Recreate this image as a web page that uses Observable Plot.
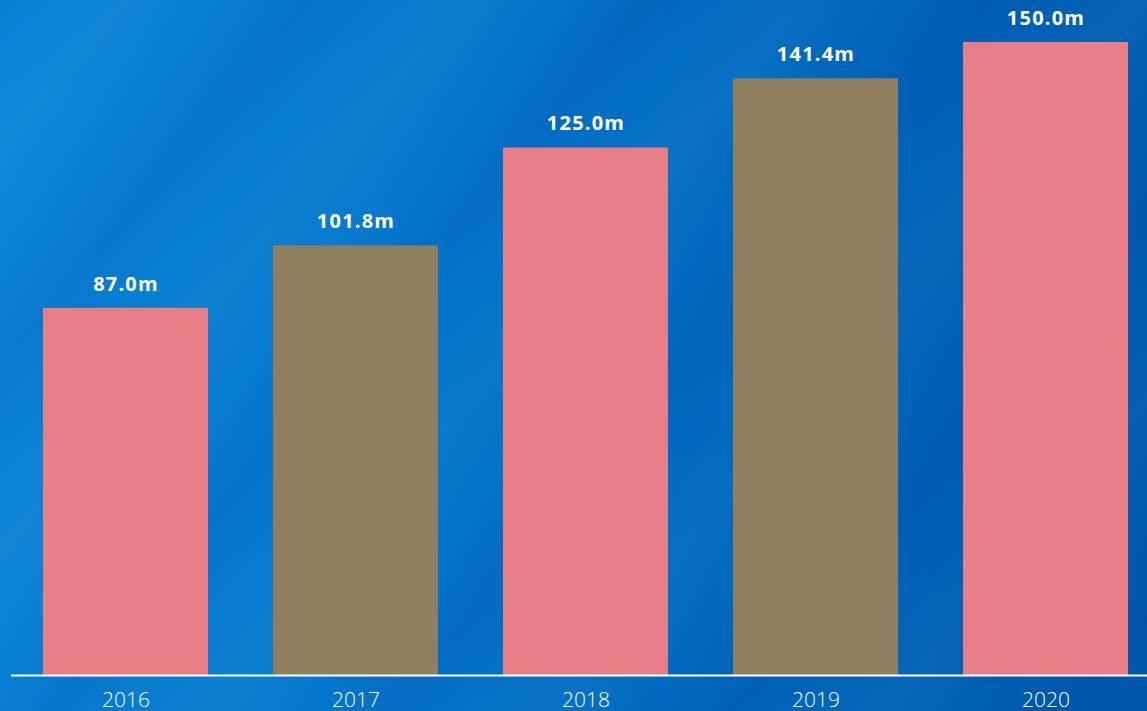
<!DOCTYPE html>
<html>
<head>
<meta charset="utf-8">
<script src="https://cdn.jsdelivr.net/npm/d3@7"></script>
<script src="https://cdn.jsdelivr.net/npm/@observablehq/plot@0.6"></script>
<style>
  html, body { margin: 0; padding: 0; width: 1147px; height: 711px; overflow: hidden; }
  body {
    background:
      repeating-linear-gradient(-50deg, rgba(0,40,140,0.0) 0px, rgba(0,40,140,0.10) 60px, rgba(0,40,140,0.0) 130px, rgba(255,255,255,0.03) 200px, rgba(0,40,140,0.0) 260px),
      linear-gradient(100deg, #0A84D8 0%, #0478CC 35%, #0068BE 65%, #0058AA 100%);
  }
  #chart { position: absolute; left: 0; top: 0; }
  #chart svg { background: transparent; }
  .vlabel text { letter-spacing: 1.2px; }
</style>
</head>
<body>
<div id="chart"></div>
<script>
const years = ["2016", "2017", "2018", "2019", "2020"];
const values = [87.0, 101.8, 125.0, 141.4, 150.0];
const labels = ["87.0m", "101.8m", "125.0m", "141.4m", "150.0m"];
const barColors = ["#E87E88", "#8F7F61", "#E87E88", "#8F7F61", "#E87E88"];

const data = years.map((y, i) => ({year: y, value: values[i], label: labels[i], color: barColors[i]}));

const chart = Plot.plot({
  width: 1147,
  height: 711,
  marginLeft: 11,
  marginRight: 0,
  marginTop: 0,
  marginBottom: 0,
  style: {background: "transparent", overflow: "visible"},
  x: {domain: years, range: [19, 1152], paddingInner: 0.2826, paddingOuter: 0.1, axis: null},
  y: {domain: [0, 150], range: [675, 42], axis: null},
  marks: [
    Plot.barY(data, {x: "year", y: "value", fill: "color"}),
    Plot.ruleY([0], {stroke: "#FFFFFF", strokeWidth: 2}),
    Plot.text(data, {x: "year", y: "value", text: "label", dy: -24, fill: "#FFFFFF",
      fontFamily: "Open Sans", fontWeight: 700, fontSize: 20, className: "vlabel"}),
    Plot.text(data, {x: "year", y: () => 0, text: "year", dy: 24.5, fill: "#FFFFFF",
      fontFamily: "Open Sans", fontWeight: 300, fontSize: 21})
  ]
});
document.getElementById("chart").appendChild(chart);
</script>
</body>
</html>
